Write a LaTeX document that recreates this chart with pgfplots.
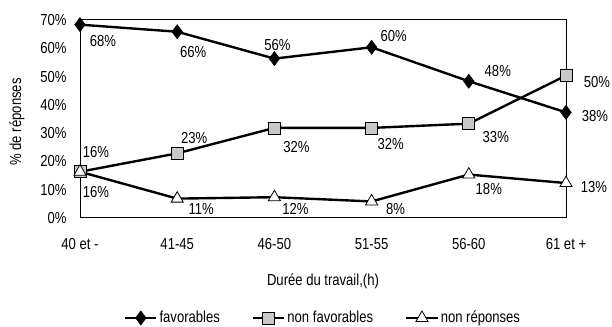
\documentclass[border=0pt]{standalone}
\usepackage{pgfplots}
\pgfplotsset{compat=1.18}
\usepackage{fontspec}
\setmainfont{Liberation Sans}[FakeStretch=0.82]
\definecolor{sqfill}{RGB}{200,200,200}
\begin{document}
\fontsize{16}{18}\selectfont
\begin{tikzpicture}
\begin{axis}[
  width=486bp, height=198bp, scale only axis,
  xmin=0, xmax=5, ymin=0, ymax=70,
  clip=false,
  xtick={0,1,2,3,4,5},
  xticklabels={40 et -,41-45,46-50,51-55,56-60,61 et +},
  ytick={0,10,20,30,40,50,60,70},
  yticklabel={\pgfmathprintnumber{\tick}\%},
  /pgf/number format/assume math mode=true,
  major tick length=0pt,
  axis line style={line width=0.7pt, black},
  xticklabel style={anchor=center, yshift=-27bp},
  yticklabel style={anchor=east, xshift=-8bp, yshift=-1bp},
  xlabel={Durée du travail,(h)},
  ylabel={\% de réponses},
  xlabel style={at={(axis description cs:0.5,-0.323)}, anchor=center},
  ylabel style={at={(axis description cs:-0.13,0.48)}, anchor=center, font=\fontsize{16}{18}\selectfont},
  legend columns=3,
  legend style={draw=none, fill=none, at={(axis description cs:0.5,-0.51)}, anchor=center,
    /tikz/every even column/.append style={column sep=30bp}},
  legend image code/.code={\draw[mark repeat=2,mark phase=2,#1] plot coordinates {(0,0) (0.55cm,0) (1.1cm,0)};},
  every axis plot/.append style={line width=2.4pt, black},
]
\addplot[mark=diamond*, mark size=7bp, mark options={solid, fill=black, line width=0.6pt}]
  coordinates {(0,68) (1,65.5) (2,56) (3,60) (4,48) (5,37)};
\addlegendentry{favorables}
\addplot[mark=square*, mark size=6bp, mark options={solid, fill=sqfill, draw=black, line width=0.8pt}]
  coordinates {(0,16) (1,22.5) (2,31.5) (3,31.5) (4,33) (5,50)};
\addlegendentry{non favorables}
\addplot[mark=triangle*, mark size=7bp, mark options={solid, fill=white, draw=black, line width=0.8pt}]
  coordinates {(0,16) (1,6.5) (2,7) (3,5.5) (4,15) (5,12)};
\addlegendentry{non réponses}
% labels favorables
\node[xshift=23bp,yshift=-16bp] at (axis cs:0,68) {68\%};
\node[xshift=16bp,yshift=-20bp] at (axis cs:1,65.5) {66\%};
\node[xshift=3bp,yshift=14bp] at (axis cs:2,56) {56\%};
\node[xshift=22bp,yshift=11bp] at (axis cs:3,60) {60\%};
\node[xshift=29bp,yshift=10bp] at (axis cs:4,48) {48\%};
\node[xshift=29bp,yshift=-4bp] at (axis cs:5,37) {38\%};
% labels non favorables
\node[xshift=16bp,yshift=20bp] at (axis cs:0,16) {16\%};
\node[xshift=17bp,yshift=15bp] at (axis cs:1,22.5) {23\%};
\node[xshift=22bp,yshift=-19bp] at (axis cs:2,31.5) {32\%};
\node[xshift=19bp,yshift=-16bp] at (axis cs:3,31.5) {32\%};
\node[xshift=27bp,yshift=-13bp] at (axis cs:4,33) {33\%};
\node[xshift=31bp,yshift=-6bp] at (axis cs:5,50) {50\%};
% labels non reponses
\node[xshift=16bp,yshift=-20bp] at (axis cs:0,16) {16\%};
\node[xshift=24bp,yshift=-10bp] at (axis cs:1,6.5) {11\%};
\node[xshift=21bp,yshift=-12bp] at (axis cs:2,7) {12\%};
\node[xshift=24bp,yshift=-8bp] at (axis cs:3,5.5) {8\%};
\node[xshift=20bp,yshift=-14bp] at (axis cs:4,15) {18\%};
\node[xshift=28bp,yshift=-4bp] at (axis cs:5,12) {13\%};
\coordinate (O) at (rel axis cs:0,0);
\end{axis}
\pgfresetboundingbox
\path[use as bounding box] ([xshift=-80bp,yshift=-110bp]O) rectangle ([xshift=532bp,yshift=217bp]O);
\end{tikzpicture}
\end{document}
